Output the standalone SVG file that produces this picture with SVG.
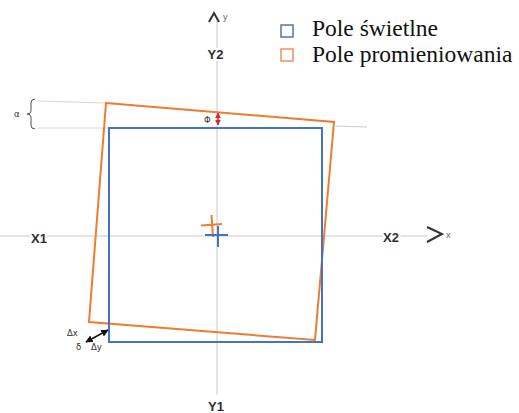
<svg xmlns="http://www.w3.org/2000/svg" width="519" height="413" viewBox="0 0 519 413">
<defs>
<style>
.axis{stroke:#c9c9c9;stroke-width:1;fill:none}
.faint{stroke:#d6d6d6;stroke-width:1;fill:none}
.lbl{font-family:"Liberation Sans",Arial,sans-serif;font-size:13px;font-weight:bold;fill:#2f2f2f;stroke:#fff;stroke-width:4px;paint-order:stroke;text-anchor:middle}
.small{font-family:"Liberation Sans",Arial,sans-serif;font-size:9px;fill:#666}
.sym{font-family:"DejaVu Sans",sans-serif;font-size:8.5px;fill:#333}
.leg{font-family:"Liberation Serif","Times New Roman",serif;font-size:23.5px;fill:#111}
.blue{stroke:#4472c4;stroke-width:2;fill:none}
.orange{stroke:#ed7d31;stroke-width:2;fill:none}
.chev{stroke:#333;stroke-width:2;fill:none}
</style>
<marker id="ah" viewBox="0 0 10 10" refX="9" refY="5" markerWidth="5" markerHeight="5" orient="auto-start-reverse">
<path d="M0,0 L10,5 L0,10 z" fill="#111"/>
</marker>
<marker id="ahr" viewBox="0 0 10 10" refX="9" refY="5" markerWidth="4" markerHeight="4" orient="auto-start-reverse">
<path d="M0,0 L10,5 L0,10 z" fill="#e8202a"/>
</marker>
</defs>
<rect width="519" height="413" fill="#fff"/>

<g id="legend">
<rect x="281" y="25" width="12" height="12" fill="none" stroke="#5b6fb5" stroke-width="1.5"/>
<text class="leg" x="312" y="36">Pole świetlne</text>
<rect x="281" y="49" width="12" height="12" fill="none" stroke="#ef9060" stroke-width="1.5"/>
<text class="leg" x="312" y="62">Pole promieniowania</text>
</g>

<g id="connectors">
<line class="axis" x1="217" y1="20" x2="217" y2="395"/>
<line class="axis" x1="0" y1="236" x2="427" y2="236"/>
<line class="faint" x1="38" y1="101" x2="106" y2="103"/>
<line class="faint" x1="38" y1="128" x2="108" y2="128" stroke="#e6e6e6"/>
<line class="axis" x1="336" y1="126" x2="367" y2="127"/>
<polyline class="chev" points="209,22 214,13 219,22"/>
<polyline class="chev" points="427,227 442,234 427,242"/>
<line x1="218" y1="113" x2="218" y2="125" stroke="#e8202a" stroke-width="1.5" marker-start="url(#ahr)" marker-end="url(#ahr)"/>
<line x1="86" y1="342" x2="108" y2="330" stroke="#111" stroke-width="1.5" marker-start="url(#ah)" marker-end="url(#ah)"/>
<path d="M35,99 Q31,99 31,103 L31,111 Q31,114 27,114 Q31,114 31,117 L31,125 Q31,129 35,129" fill="none" stroke="#555" stroke-width="1"/>
</g>

<g id="radiation-field">
<polygon class="orange" points="106,103 334,122 315,340 89,322"/>
<line class="orange" x1="201" y1="225.5" x2="222" y2="224" stroke-width="1.8"/>
<line class="orange" x1="211.5" y1="215" x2="213" y2="237" stroke-width="1.8"/>
</g>

<g id="light-field">
<rect class="blue" x="109" y="128" width="213" height="214"/>
<line class="blue" x1="205" y1="235" x2="228" y2="235" stroke-width="1.8"/>
<line class="blue" x1="218" y1="226" x2="218" y2="247" stroke-width="1.8"/>
</g>

<g id="labels">
<text class="lbl" x="215.5" y="59">Y2</text>
<text class="lbl" x="216" y="411">Y1</text>
<text class="lbl" x="39" y="243">X1</text>
<text class="lbl" x="391" y="242">X2</text>
<text class="small" x="223" y="20">y</text>
<text class="small" x="446" y="238">x</text>
<text class="sym" x="14" y="117">α</text>
<text class="sym" x="204" y="123">Φ</text>
<text class="sym" x="67" y="336">Δx</text>
<text class="sym" x="76" y="350">δ</text>
<text class="sym" x="91" y="350">Δy</text>
</g>
</svg>
